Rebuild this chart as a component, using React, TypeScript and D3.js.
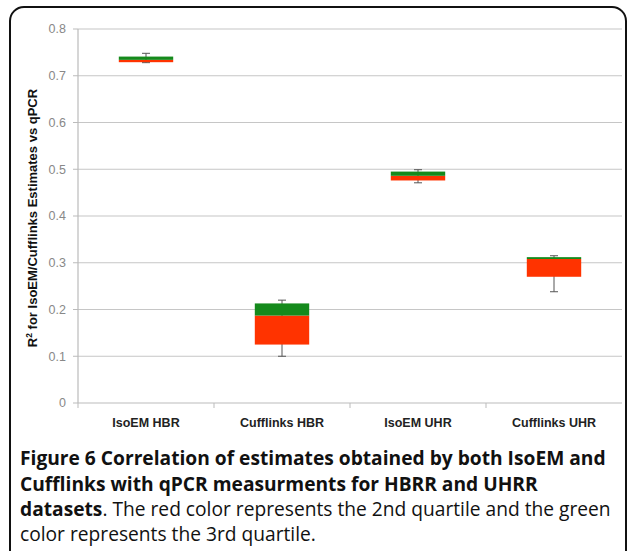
import React from "react";
import * as d3 from "d3";

const categories = ["IsoEM HBR", "Cufflinks HBR", "IsoEM UHR", "Cufflinks UHR"];
const whiskerMin = [0.728, 0.100, 0.471, 0.238];
const q1 = [0.729, 0.125, 0.476, 0.270];
const median = [0.734, 0.187, 0.486, 0.308];
const q3 = [0.741, 0.213, 0.495, 0.312];
const whiskerMax = [0.748, 0.220, 0.499, 0.315];
const yTicks = [0, 0.1, 0.2, 0.3, 0.4, 0.5, 0.6, 0.7, 0.8];

const W = 627, H = 551;
const left = 78, right = 622, top = 29, bottom = 403;
const GREEN = "#158a1c";
const RED = "#ff3300";

export default function App() {
  const x = d3.scaleBand<string>().domain(categories).range([left, right]).padding(0);
  const y = d3.scaleLinear().domain([0, 0.8]).range([bottom, top]);
  const bw = x.bandwidth() * 0.4;
  const axisFont = "'Liberation Sans', Arial, sans-serif";
  const capFont = "'Open Sans', 'Noto Sans', sans-serif";
  return (
    <svg width={W} height={H} style={{ position: "absolute", left: 0, top: 0, background: "#fff" }}>
      <rect x={10} y={7} width={616} height={560} rx={14} fill="#fff" stroke="#111" strokeWidth={2} />
      {yTicks.map((t) => (
        <g key={t}>
          {t > 0 && <line x1={left} x2={right} y1={y(t)} y2={y(t)} stroke="#c6c6c6" strokeWidth={1.2} />}
          <line x1={left - 5} x2={left} y1={y(t)} y2={y(t)} stroke="#bbb" />
          <text x={66} y={y(t)} dy="0.35em" textAnchor="end" fontFamily={axisFont} fontSize={12.5} fill="#888">
            {d3.format("")(t)}
          </text>
        </g>
      ))}
      <line x1={left} x2={left} y1={top} y2={bottom} stroke="#bbb" strokeWidth={1.2} />
      <line x1={left} x2={right} y1={bottom} y2={bottom} stroke="#bbb" strokeWidth={1.2} />
      {categories.map((c, i) => (
        <line key={"t" + i} x1={x(c)!} x2={x(c)!} y1={bottom} y2={bottom + 5} stroke="#bbb" />
      ))}
      {categories.map((c, i) => {
        const cx = x(c)! + x.bandwidth() / 2;
        return (
          <g key={c}>
            <line x1={cx} x2={cx} y1={y(whiskerMax[i])} y2={y(whiskerMin[i])} stroke="#555" strokeWidth={1} />
            <line x1={cx - 4} x2={cx + 4} y1={y(whiskerMax[i])} y2={y(whiskerMax[i])} stroke="#555" strokeWidth={1} />
            <line x1={cx - 4} x2={cx + 4} y1={y(whiskerMin[i])} y2={y(whiskerMin[i])} stroke="#555" strokeWidth={1} />
            <rect x={cx - bw / 2} width={bw} y={y(median[i])} height={y(q1[i]) - y(median[i])} fill={RED} />
            <rect x={cx - bw / 2} width={bw} y={y(q3[i])} height={y(median[i]) - y(q3[i])} fill={GREEN} />
            <text x={cx} y={427} textAnchor="middle" fontFamily={axisFont} fontWeight="bold" fontSize={12.5} fill="#222">
              {c}
            </text>
          </g>
        );
      })}
      <text
        transform={`translate(37,${(top + bottom) / 2 + 2}) rotate(-90)`}
        textAnchor="middle"
        fontFamily={axisFont}
        fontWeight="bold"
        fontSize={13}
        fill="#111"
      >
        R<tspan dy="-5" fontSize={8.5}>2</tspan>
        <tspan dy="5"> for IsoEM/Cufflinks Estimates vs qPCR</tspan>
      </text>
      <g fontFamily={capFont} fontSize={19.2} fill="#111">
        <text x={20} y={465} fontWeight="bold">Figure 6 Correlation of estimates obtained by both IsoEM and</text>
        <text x={20} y={491} fontWeight="bold">Cufflinks with qPCR measurments for HBRR and UHRR</text>
        <text x={20} y={516}>
          <tspan fontWeight="bold">datasets</tspan>. The red color represents the 2nd quartile and the green
        </text>
        <text x={20} y={541}>color represents the 3rd quartile.</text>
      </g>
    </svg>
  );
}
